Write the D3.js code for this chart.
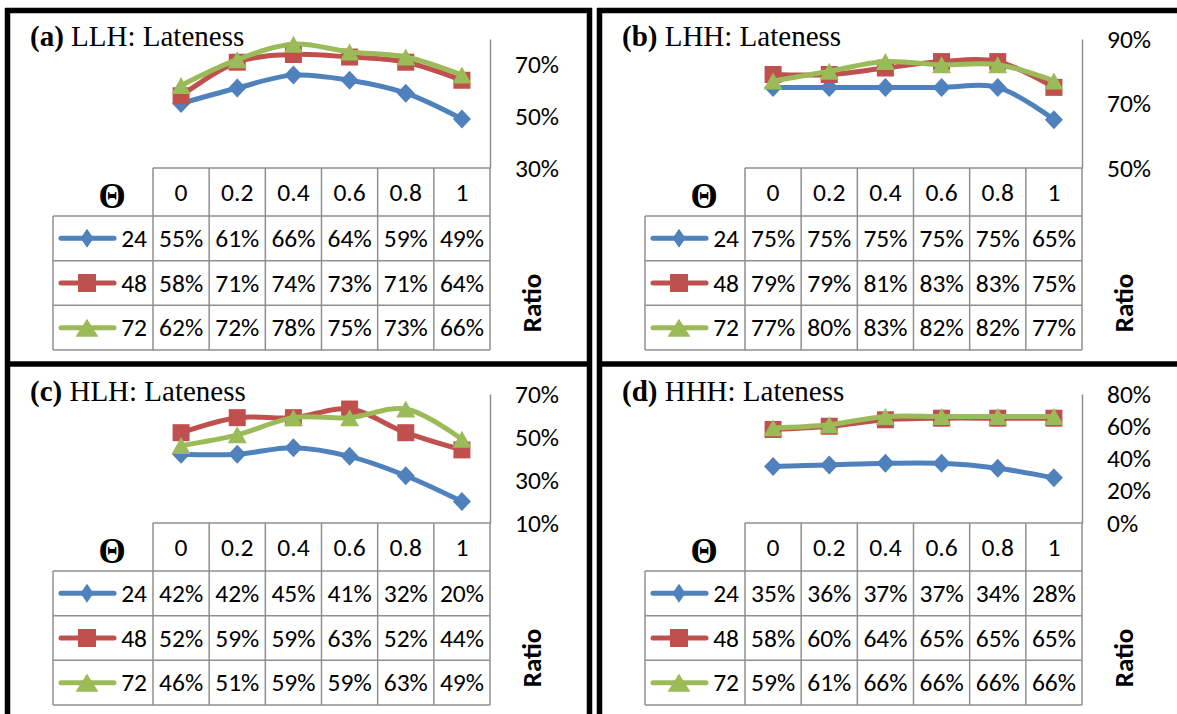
<!DOCTYPE html>
<html>
<head>
<meta charset="utf-8">
<script src="https://cdn.jsdelivr.net/npm/d3@7"></script>
<style>
  body { margin: 0; background: #fff; }
  svg { display: block; }
</style>
</head>
<body>
<div id="chart"></div>
<script>
// values (percent)
const thetaLabels = ['0', '0.2', '0.4', '0.6', '0.8', '1'];
const seriesNames = ['24', '48', '72'];

const llh24 = [55, 61, 66, 64, 59, 49];
const llh48 = [58, 71, 74, 73, 71, 64];
const llh72 = [62, 72, 78, 75, 73, 66];

const lhh24 = [75, 75, 75, 75, 75, 65];
const lhh48 = [79, 79, 81, 83, 83, 75];
const lhh72 = [77, 80, 83, 82, 82, 77];

const hlh24 = [42, 42, 45, 41, 32, 20];
const hlh48 = [52, 59, 59, 63, 52, 44];
const hlh72 = [46, 51, 59, 59, 63, 49];

const hhh24 = [35, 36, 37, 37, 34, 28];
const hhh48 = [58, 60, 64, 65, 65, 65];
const hhh72 = [59, 61, 66, 66, 66, 66];

const panelTags = ['a', 'b', 'c', 'd'];
const panelNames = ['LLH: Lateness', 'LHH: Lateness', 'HLH: Lateness', 'HHH: Lateness'];
const yDomains = [[30, 80], [50, 90], [10, 70], [0, 80]];
const yTicks = [[30, 50, 70], [50, 70, 90], [10, 30, 50, 70], [0, 20, 40, 60, 80]];

const colors = ['#4F81BD', '#C0504D', '#9BBB59'];
const gridColor = '#8f8f8f';
const sans = 'Carlito, Calibri, Lato, sans-serif';
const serif = '"Liberation Serif", "Times New Roman", serif';
const fs = '25.5px';

const W = 1177, H = 714;
const offsets = [[0, 0], [592, 0], [0, 355], [592, 355]];

// layout inside one panel
const L = {
    legendLeft: 53, tableLeft: 153, tableRight: 490,
    plotTop: 39, headerTop: 168, headerBottom: 216, bottom: 350
};

const svg = d3.select('#chart').append('svg')
    .attr('width', W)
    .attr('height', H);

// marker shapes
function markerPath(i, legend) {
    if (i === 0) {
        const w = legend ? 6.5 : 9, h = legend ? 9.5 : 9.5;
        return `M0,${-h}L${w},0L0,${h}L${-w},0Z`;
    }
    if (i === 1) {
        const s = legend ? 9 : 8.5;
        return `M${-s},${-s}H${s}V${s}H${-s}Z`;
    }
    const w = legend ? 11.5 : 9.5, h = legend ? 9 : 8.5;
    return `M0,${-h}L${w},${h}L${-w},${h}Z`;
}

function drawPanel(idx, series) {
    const [ox, oy] = offsets[idx];
    const g = svg.append('g').attr('transform', `translate(${ox},${oy})`);

    const x = d3.scaleBand()
        .domain(thetaLabels)
        .range([L.tableLeft, L.tableRight]);

    const y = d3.scaleLinear()
        .domain(yDomains[idx])
        .range([L.headerTop, L.plotTop]);

    // title
    const title = g.append('text')
        .attr('x', 30)
        .attr('y', 46)
        .style('font-family', serif)
        .style('font-size', '29px')
        .style('fill', '#000');
    title.append('tspan').style('font-weight', 'bold').text(`(${panelTags[idx]})`);
    title.append('tspan').text(' ' + panelNames[idx]);

    // right value axis
    const axis = g.append('g')
        .attr('transform', `translate(${L.tableRight},0)`)
        .call(d3.axisRight(y)
            .tickValues(yTicks[idx])
            .tickSize(0)
            .tickPadding(25)
            .tickFormat(d => d + '%'));
    axis.select('.domain').attr('stroke', gridColor).attr('stroke-width', 1.5);
    axis.selectAll('text')
        .style('font-family', sans)
        .style('font-size', fs)
        .style('fill', '#000');

    // data table
    const rowH = (L.bottom - L.headerBottom) / seriesNames.length;
    const grid = g.append('g')
        .attr('stroke', gridColor)
        .attr('stroke-width', 1.5)
        .attr('fill', 'none');

    grid.append('line')
        .attr('x1', L.tableLeft).attr('x2', L.tableRight)
        .attr('y1', L.headerTop).attr('y2', L.headerTop);
    seriesNames.forEach((s, i) => {
        grid.append('line')
            .attr('x1', L.legendLeft).attr('x2', L.tableRight)
            .attr('y1', L.headerBottom + i * rowH).attr('y2', L.headerBottom + i * rowH);
    });
    grid.append('line')
        .attr('x1', L.legendLeft).attr('x2', L.tableRight)
        .attr('y1', L.bottom).attr('y2', L.bottom);
    grid.append('line')
        .attr('x1', L.legendLeft).attr('x2', L.legendLeft)
        .attr('y1', L.headerBottom).attr('y2', L.bottom);
    thetaLabels.forEach(t => {
        grid.append('line')
            .attr('x1', x(t)).attr('x2', x(t))
            .attr('y1', L.headerTop).attr('y2', L.bottom);
    });
    grid.append('line')
        .attr('x1', L.tableRight).attr('x2', L.tableRight)
        .attr('y1', L.headerTop).attr('y2', L.bottom);

    // header: theta labels
    g.append('text')
        .attr('x', 112)
        .attr('y', 196)
        .attr('text-anchor', 'middle')
        .attr('dominant-baseline', 'central')
        .style('font-family', serif)
        .style('font-weight', 'bold')
        .style('font-size', '35px')
        .text('\u0398');

    g.selectAll('.head')
        .data(thetaLabels)
        .enter()
        .append('text')
        .attr('x', d => x(d) + x.bandwidth() / 2)
        .attr('y', (L.headerTop + L.headerBottom) / 2)
        .attr('text-anchor', 'middle')
        .attr('dominant-baseline', 'central')
        .style('font-family', sans)
        .style('font-size', fs)
        .text(d => d);

    // rows: legend key + values
    series.forEach((vals, i) => {
        const cy = L.headerBottom + i * rowH + rowH / 2;

        g.append('line')
            .attr('x1', 61).attr('x2', 114)
            .attr('y1', cy).attr('y2', cy)
            .attr('stroke', colors[i])
            .attr('stroke-width', 5)
            .attr('stroke-linecap', 'round');
        g.append('path')
            .attr('d', markerPath(i, true))
            .attr('transform', `translate(87,${cy})`)
            .attr('fill', colors[i]);
        g.append('text')
            .attr('x', 147)
            .attr('y', cy)
            .attr('text-anchor', 'end')
            .attr('dominant-baseline', 'central')
            .style('font-family', sans)
            .style('font-size', fs)
            .text(seriesNames[i]);

        g.selectAll('.val' + i)
            .data(vals)
            .enter()
            .append('text')
            .attr('x', (d, j) => x(thetaLabels[j]) + x.bandwidth() / 2)
            .attr('y', cy)
            .attr('text-anchor', 'middle')
            .attr('dominant-baseline', 'central')
            .style('font-family', sans)
            .style('font-size', fs)
            .text(d => d + '%');
    });

    // lines and markers
    const line = d3.line()
        .x((d, j) => x(thetaLabels[j]) + x.bandwidth() / 2)
        .y(d => y(d))
        .curve(d3.curveCatmullRom.alpha(0.5));

    series.forEach((vals, i) => {
        g.append('path')
            .datum(vals)
            .attr('d', line)
            .attr('fill', 'none')
            .attr('stroke', colors[i])
            .attr('stroke-width', 5)
            .attr('stroke-linejoin', 'round');
        g.selectAll('.mk' + i)
            .data(vals)
            .enter()
            .append('path')
            .attr('d', markerPath(i, false))
            .attr('transform', (d, j) => `translate(${x(thetaLabels[j]) + x.bandwidth() / 2},${y(d)})`)
            .attr('fill', colors[i]);
    });

    // axis title
    g.append('text')
        .attr('transform', `translate(${L.tableRight + 41},${303}) rotate(-90)`)
        .attr('text-anchor', 'middle')
        .attr('dominant-baseline', 'central')
        .style('font-family', sans)
        .style('font-weight', 'bold')
        .style('font-size', '27px')
        .text('Ratio');
}

drawPanel(0, [llh24, llh48, llh72]);
drawPanel(1, [lhh24, lhh48, lhh72]);
drawPanel(2, [hlh24, hlh48, hlh72]);
drawPanel(3, [hhh24, hhh48, hhh72]);

// thick panel borders
const border = svg.append('g')
    .attr('stroke', '#000')
    .attr('stroke-width', 5.5);
[[5, 592], [597, W + 5]].forEach(([x0, x1]) => {
    border.append('line').attr('x1', x0).attr('x2', x1).attr('y1', 10.5).attr('y2', 10.5);
    border.append('line').attr('x1', x0).attr('x2', x1).attr('y1', 364).attr('y2', 364);
});
[7.5, 589.5, 599.5].forEach(xx => {
    border.append('line').attr('x1', xx).attr('x2', xx).attr('y1', 8).attr('y2', H + 5);
});
</script>
</body>
</html>
